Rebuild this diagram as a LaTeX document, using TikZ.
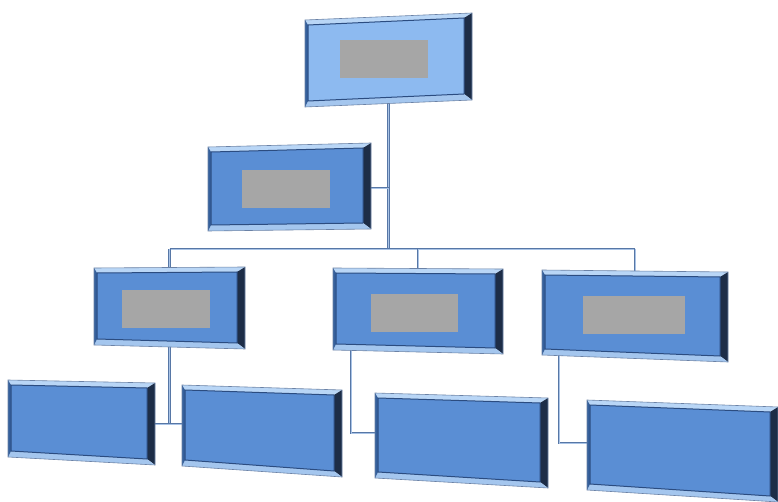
\documentclass[tikz,border=0pt]{standalone}
\usetikzlibrary{calc,backgrounds}
\definecolor{facemid}{HTML}{5A8ED4}
\definecolor{facelight}{HTML}{8DBAF0}
\definecolor{bevtopc}{HTML}{B9D6F6}
\definecolor{bevbotc}{HTML}{A4C6EE}
\definecolor{bevleftc}{HTML}{35609C}
\definecolor{bevrightc}{HTML}{1D2D47}
\definecolor{edgec}{HTML}{2B4C80}
\definecolor{connc}{HTML}{5777A6}
\definecolor{connin}{HTML}{A9C3E6}
\definecolor{lblc}{HTML}{A6A6A6}
\tikzset{
  bevtop/.style={fill=bevtopc},
  bevbot/.style={fill=bevbotc},
  bevleft/.style={fill=bevleftc},
  bevright/.style={fill=bevrightc},
  facestyle/.style={fill=#1, draw=edgec, line width=1pt},
  outerline/.style={draw=edgec!70, line width=0.6pt},
  conn/.style={draw=connc, double=connin, double distance=0.9pt, line width=0.9pt},
  lblbox/.style={fill=lblc, draw=none, inner sep=0pt, rectangle}
}
\newcommand\bevbox[6]{%
  \coordinate (#1-tl) at (#2);
  \coordinate (#1-tr) at (#3);
  \coordinate (#1-br) at (#4);
  \coordinate (#1-bl) at (#5);
  \coordinate (#1-itl) at ($(#1-tl)+(3,5)$);
  \coordinate (#1-itr) at ($(#1-tr)+(-8,5)$);
  \coordinate (#1-ibr) at ($(#1-br)+(-8,-6)$);
  \coordinate (#1-ibl) at ($(#1-bl)+(3,-6)$);
  \fill[bevtop] (#1-tl)--(#1-tr)--(#1-itr)--(#1-itl)--cycle;
  \fill[bevright] (#1-tr)--(#1-br)--(#1-ibr)--(#1-itr)--cycle;
  \fill[bevbot] (#1-br)--(#1-bl)--(#1-ibl)--(#1-ibr)--cycle;
  \fill[bevleft] (#1-bl)--(#1-tl)--(#1-itl)--(#1-ibl)--cycle;
  \draw[outerline] (#1-tl)--(#1-tr)--(#1-br)--(#1-bl)--cycle;
  \path[facestyle=#6] (#1-itl)--(#1-itr)--(#1-ibr)--(#1-ibl)--cycle;
  \coordinate (#1) at ($(#1-tl)!0.5!(#1-br)$);
}
\begin{document}
\begin{tikzpicture}[x=1pt,y=-1pt]
\useasboundingbox (0,0) rectangle (778,502);

% boxes
\bevbox{T}{305,20}{472,13}{472,100}{305,107}{facelight}
\bevbox{B2}{208,147}{371,143}{371,229}{208,231}{facemid}
\bevbox{B3a}{94,268}{245,267}{245,349}{94,345}{facemid}
\bevbox{B3b}{333,268}{503,269}{503,354}{333,350}{facemid}
\bevbox{B3c}{542,270}{728,272}{728,362}{542,355}{facemid}
\bevbox{B4a}{8,380}{155,383}{155,465}{8,457}{facemid}
\bevbox{B4b}{182,385}{342,390}{342,477}{182,466}{facemid}
\bevbox{B4c}{375,393}{548,398}{548,488}{375,478}{facemid}
\bevbox{B4d}{587,400}{778,407}{778,502}{587,490}{facemid}

% grey text placeholders
\node[lblbox, minimum width=88pt, minimum height=38pt] (gT) at (384,59) {};
\node[lblbox, minimum width=88pt, minimum height=38pt] (gB2) at (286,189) {};
\node[lblbox, minimum width=88pt, minimum height=38pt] (gB3a) at (166,309) {};
\node[lblbox, minimum width=87pt, minimum height=38pt] (gB3b) at (414.5,313) {};
\node[lblbox, minimum width=102pt, minimum height=38pt] (gB3c) at (634,315) {};

% connectors (behind the boxes)
\coordinate (bus) at (0,249);
\coordinate (j1) at (169.5,424);
\coordinate (j2) at (351,433);
\coordinate (j3) at (559,443);
\begin{pgfonlayer}{background}
\fill[white] (0,0) rectangle (778,502);
\draw[conn] (T) -- (T |- bus);
\draw[conn] (B2) -- (B2 -| T);
\draw[conn] (B3a |- bus) -- (B3c |- bus);
\draw[conn] (B3a |- bus) -- (B3a);
\draw[conn] (B3b |- bus) -- (B3b);
\draw[conn] (B3c |- bus) -- (B3c);
\draw[conn] (B3a) -- (j1);
\draw[conn] (j1 -| B4a) -- (j1 -| B4b);
\draw[conn] (j2 |- B3b) -- (j2) -- (j2 -| B4c);
\draw[conn] (j3 |- B3c) -- (j3) -- (j3 -| B4d);
\end{pgfonlayer}
\end{tikzpicture}
\end{document}
